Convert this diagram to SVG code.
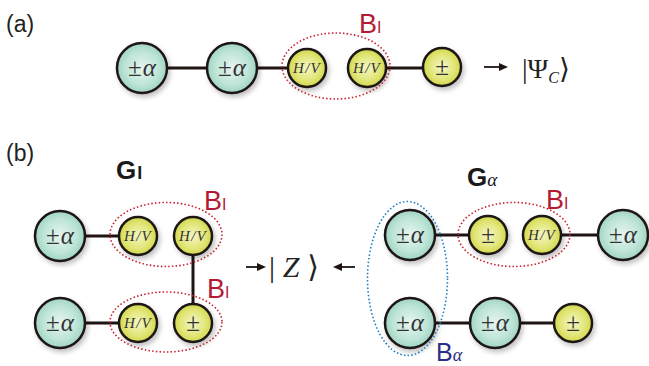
<svg xmlns="http://www.w3.org/2000/svg" width="649" height="366" viewBox="0 0 649 366">
  <defs>
    <radialGradient id="teal" cx="0.5" cy="0.5" r="0.55">
      <stop offset="0" stop-color="#e6f5ef"/>
      <stop offset="0.6" stop-color="#bfe5d8"/>
      <stop offset="1" stop-color="#96cfbd"/>
    </radialGradient>
    <radialGradient id="lime" cx="0.5" cy="0.5" r="0.55">
      <stop offset="0" stop-color="#f4f6c4"/>
      <stop offset="0.6" stop-color="#e2e679"/>
      <stop offset="1" stop-color="#cbd33c"/>
    </radialGradient>
    <filter id="shadow" x="-30%" y="-30%" width="170%" height="170%">
      <feGaussianBlur in="SourceAlpha" stdDeviation="2.5"/>
      <feOffset dx="2" dy="3" result="b"/>
      <feComponentTransfer><feFuncA type="linear" slope="0.25"/></feComponentTransfer>
      <feMerge><feMergeNode/><feMergeNode in="SourceGraphic"/></feMerge>
    </filter>
  </defs>
  <style>
    .big { fill: url(#teal); stroke: #1e1512; stroke-width: 2.5; filter: url(#shadow); }
    .small { fill: url(#lime); stroke: #1e1512; stroke-width: 2.5; filter: url(#shadow); }
    .edge { stroke: #1e1512; stroke-width: 3; fill: none; }
    .arrow { stroke: #1e1512; stroke-width: 1.8; fill: none; }
    .lbl { font-family: "Liberation Serif", "DejaVu Serif", serif; fill: #333; text-anchor: middle; }
    .pm { font-size: 25px; }
    .hv { font-size: 15px; font-style: italic; letter-spacing: 1.2px; }
    .sans { font-family: "Liberation Sans", Arial, sans-serif; }
    .red { fill: #b31b34; }
    .redring { fill: none; stroke: #c8202e; stroke-width: 1.6; stroke-dasharray: 1.5 2.2; }
    .bluering { fill: none; stroke: #1d7cc4; stroke-width: 1.6; stroke-dasharray: 1.5 2.2; }
    .math { font-family: "Liberation Serif", "DejaVu Serif", serif; fill: #222; }
  </style>

  <!-- panel labels -->
  <text x="6" y="32" class="sans" font-size="23" fill="#222">(a)</text>
  <text x="6" y="161" class="sans" font-size="23" fill="#222">(b)</text>

  <!-- connectors -->
  <g id="connectors">
    <line class="edge" x1="142" y1="68" x2="307" y2="68"/>
    <line class="edge" x1="367" y1="68" x2="442" y2="68"/>
    <line class="edge" x1="60" y1="236" x2="138" y2="236"/>
    <line class="edge" x1="193" y1="236" x2="193" y2="323"/>
    <line class="edge" x1="60" y1="323" x2="138" y2="323"/>
    <line class="edge" x1="410" y1="235" x2="488" y2="235"/>
    <line class="edge" x1="542" y1="235" x2="623" y2="235"/>
    <line class="edge" x1="410" y1="323" x2="573" y2="323"/>
    <!-- arrows -->
    <line class="arrow" x1="484" y1="67" x2="505" y2="67"/>
    <path d="M499 63 L508 67 L499 71 Z" fill="#1e1512"/>
    <line class="arrow" x1="246" y1="267" x2="262" y2="267"/>
    <path d="M257 263 L266 267 L257 271 Z" fill="#1e1512"/>
    <line class="arrow" x1="337" y1="267" x2="355" y2="267"/>
    <path d="M342 263 L333 267 L342 271 Z" fill="#1e1512"/>
  </g>

  <!-- (a) chain -->
  <g id="a1"><circle class="big" cx="142" cy="68" r="25"/><text class="lbl pm" x="142" y="76">±<tspan dx="1" font-style="italic">α</tspan></text></g>
  <g id="a2"><circle class="big" cx="232" cy="68" r="25"/><text class="lbl pm" x="232" y="76">±<tspan dx="1" font-style="italic">α</tspan></text></g>
  <g id="a3"><circle class="small" cx="307" cy="68" r="19"/><text class="lbl hv" x="307" y="73">H/V</text></g>
  <g id="a4"><circle class="small" cx="367" cy="68" r="19"/><text class="lbl hv" x="367" y="73">H/V</text></g>
  <g id="a5"><circle class="small" cx="442" cy="67" r="19"/><text class="lbl pm" x="442" y="75">±</text></g>
  <g id="aB"><ellipse class="redring" cx="336" cy="66" rx="54" ry="33"/><text class="sans red" x="359" y="33" font-size="27">B<tspan font-size="16">I</tspan></text></g>
  <text class="math" x="522" y="78" font-size="28">|Ψ<tspan font-size="16" font-style="italic" dy="5">C</tspan><tspan dy="-5">⟩</tspan></text>

  <!-- (b) left graph G_I -->
  <text class="sans" x="116" y="179" font-size="26" font-weight="bold" fill="#1a1a1a">G<tspan dx="1" font-size="18">I</tspan></text>
  <g id="l1"><circle class="big" cx="60" cy="236" r="25"/><text class="lbl pm" x="60" y="244">±<tspan dx="1" font-style="italic">α</tspan></text></g>
  <g id="l2"><circle class="small" cx="138" cy="236" r="19"/><text class="lbl hv" x="138" y="241">H/V</text></g>
  <g id="l3"><circle class="small" cx="193" cy="236" r="19"/><text class="lbl hv" x="193" y="241">H/V</text></g>
  <g id="l4"><circle class="big" cx="60" cy="323" r="25"/><text class="lbl pm" x="60" y="331">±<tspan dx="1" font-style="italic">α</tspan></text></g>
  <g id="l5"><circle class="small" cx="138" cy="323" r="19"/><text class="lbl hv" x="138" y="328">H/V</text></g>
  <g id="l6"><circle class="small" cx="193" cy="323" r="19"/><text class="lbl pm" x="193" y="331">±</text></g>
  <g id="lB1"><ellipse class="redring" cx="166" cy="234.5" rx="56" ry="32"/><text class="sans red" x="204" y="210" font-size="27">B<tspan font-size="16">I</tspan></text></g>
  <g id="lB2"><ellipse class="redring" cx="166" cy="322" rx="56" ry="30"/><text class="sans red" x="207" y="298" font-size="27">B<tspan font-size="16">I</tspan></text></g>

  <text class="math" x="269" y="277" font-size="30" textLength="50" lengthAdjust="spacing">|<tspan font-style="italic">Z</tspan>⟩</text>

  <!-- (b) right graph G_alpha -->
  <text class="sans" x="467" y="186" font-size="26" font-weight="bold" fill="#1a1a1a">G<tspan font-family="Liberation Serif, serif" font-weight="normal" font-style="italic" font-size="19">α</tspan></text>
  <g id="r1"><circle class="big" cx="410" cy="235" r="25"/><text class="lbl pm" x="410" y="243">±<tspan dx="1" font-style="italic">α</tspan></text></g>
  <g id="r2"><circle class="small" cx="488" cy="235" r="19"/><text class="lbl pm" x="488" y="243">±</text></g>
  <g id="r3"><circle class="small" cx="542" cy="235" r="19"/><text class="lbl hv" x="542" y="240">H/V</text></g>
  <g id="r4"><circle class="big" cx="623" cy="235" r="25"/><text class="lbl pm" x="623" y="243">±<tspan dx="1" font-style="italic">α</tspan></text></g>
  <g id="r5"><circle class="big" cx="410" cy="323" r="25"/><text class="lbl pm" x="410" y="331">±<tspan dx="1" font-style="italic">α</tspan></text></g>
  <g id="r6"><circle class="big" cx="495" cy="323" r="25"/><text class="lbl pm" x="495" y="331">±<tspan dx="1" font-style="italic">α</tspan></text></g>
  <g id="r7"><circle class="small" cx="573" cy="323" r="19"/><text class="lbl pm" x="573" y="331">±</text></g>
  <g id="rB1"><ellipse class="redring" cx="514" cy="234.5" rx="56" ry="32"/><text class="sans red" x="546" y="209" font-size="27">B<tspan font-size="16">I</tspan></text></g>
  <g id="rB2"><ellipse class="bluering" cx="407.5" cy="278.5" rx="40" ry="77"/><text class="sans" x="436" y="361" font-size="25" fill="#2b2f86">B<tspan font-family="Liberation Serif, serif" font-style="italic" font-size="18">α</tspan></text></g>
</svg>
